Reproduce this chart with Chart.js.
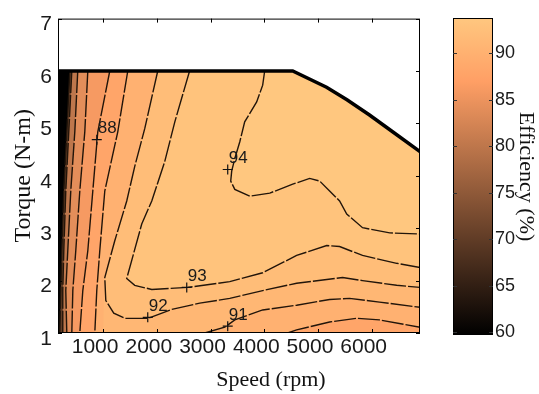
<!DOCTYPE html>
<html><head><meta charset="utf-8">
<script src="https://cdn.jsdelivr.net/npm/chart.js@4.4.0/dist/chart.umd.min.js"></script>
<style>
html,body{margin:0;padding:0;background:#fff;}
#wrap{position:relative;width:539px;height:394px;overflow:hidden;}
#main{position:absolute;left:0;top:0;}
#bar{position:absolute;left:440px;top:0;}
</style></head><body>
<div id="wrap">
<canvas id="main" width="440" height="394"></canvas>
<canvas id="bar" width="99" height="394"></canvas>
</div>
<script>
// ---------- data ----------
const speedTicks  = [1000, 2000, 3000, 4000, 5000, 6000];
const torqueTicks = [1, 2, 3, 4, 5, 6, 7];
const colorTicks  = [60, 65, 70, 75, 80, 85, 90];
const speedRange  = [160, 6900];
const torqueRange = [1, 7];
const effRange    = [59.7, 93.8];

// maximum-torque envelope
const envSpeed  = [160, 4530, 5160, 5540, 5960, 6390, 6900];
const envTorque = [6.00, 6.00, 5.69, 5.45, 5.16, 4.84, 4.46];

// contour lines (speed rpm, torque N-m)
const c70Speed  = [380, 324, 268, 231, 212, 193];
const c70Torque = [6.00, 4.84, 3.71, 2.57, 1.81, 1.00];
const c80Speed  = [417, 361, 305, 268, 249, 249];
const c80Torque = [6.00, 4.84, 3.71, 2.57, 1.81, 1.00];
const c84Speed  = [528, 473, 398, 342, 305, 324];
const c84Torque = [6.00, 4.84, 3.71, 2.57, 1.81, 1.00];
const c86Speed  = [715, 659, 566, 491, 436, 417];
const c86Torque = [6.00, 4.84, 3.71, 2.57, 1.81, 1.00];
const c88Speed  = [1124, 901, 808, 715, 622, 566];
const c88Torque = [6.00, 4.84, 3.71, 2.57, 1.81, 1.00];
const c90Speed  = [1459, 1273, 1031, 938, 882, 845];
const c90Torque = [6.00, 4.84, 3.71, 2.57, 1.81, 1.00];
const c90bSpeed  = [4436, 4603, 5217, 5718, 6146, 6900];
const c90bTorque = [1.00, 1.06, 1.21, 1.28, 1.25, 1.11];
const c91aSpeed  = [2017, 1775, 1589, 1440, 1217, 1031, 1010, 1000];
const c91aTorque = [6.00, 4.90, 4.18, 3.52, 2.76, 2.06, 1.50, 1.00];
const c91bSpeed  = [2892, 3265, 3452, 3971, 4603, 5217, 5588, 6146, 6900];
const c91bTorque = [1.00, 1.11, 1.25, 1.44, 1.53, 1.64, 1.66, 1.59, 1.49];
const c92Speed  = [2017, 1775, 1589, 1440, 1217, 1031, 1050, 1198, 1403, 1833, 2278, 2799, 3358, 3971, 4603, 5459, 5830, 6466, 6900];
const c92Torque = [6.00, 4.90, 4.18, 3.52, 2.76, 2.06, 1.62, 1.38, 1.28, 1.28, 1.45, 1.57, 1.66, 1.81, 1.95, 2.06, 2.00, 1.91, 1.87];
const c93Speed  = [2610, 2335, 2147, 1906, 1719, 1440, 1589, 1906, 2575, 3358, 3971, 4603, 5163, 5403, 5830, 6466, 6900];
const c93Torque = [6.00, 5.03, 4.27, 3.52, 3.08, 2.04, 1.91, 1.83, 1.87, 1.98, 2.15, 2.48, 2.67, 2.65, 2.48, 2.33, 2.25];
const c94Speed  = [4008, 3971, 3859, 3636, 3545, 3452, 3394, 3376, 3452, 3730, 4103, 4530, 4845, 5032, 5217, 5403, 5536, 5830, 6336, 6900];
const c94Torque = [6.00, 5.73, 5.41, 5.03, 4.65, 4.33, 4.09, 3.90, 3.74, 3.61, 3.67, 3.84, 3.95, 3.90, 3.71, 3.52, 3.27, 3.01, 2.91, 2.89];

// contour labels
const labelLevels = [88, 94, 93, 92, 91];
const labelSpeed  = [882, 3320, 2557, 1831, 3320];
const labelTorque = [4.69, 4.12, 1.87, 1.30, 1.13];

// ---------- helpers ----------
const P = (s, t) => s.map((v, i) => ({x: v, y: t[i]}));
const env = P(envSpeed, envTorque);
const xMin = speedRange[0], xMax = speedRange[1], tMin = torqueRange[0];
function region(path) {
  const s0 = path[0].x;
  const top = env.filter(p => p.x > s0 + 1).reverse();
  return [...path, ...top, path[0]];
}
const leftRegion = (s, t) => region([...P(s, t), {x: xMax, y: tMin}]);
function copper(v) {
  const t = Math.max(0, Math.min(1, (v - effRange[0]) / (effRange[1] - effRange[0])));
  return 'rgb(' + Math.round(255 * Math.min(1, 1.25 * t)) + ',' + Math.round(255 * 0.7812 * t) + ',' + Math.round(255 * 0.4975 * t) + ')';
}
const domain = [{x: xMin, y: tMin}, ...env, {x: xMax, y: tMin}, {x: xMin, y: tMin}];

const regions = [
  {lv: effRange[0], pts: domain},
  {lv: 70, pts: leftRegion(c70Speed, c70Torque)},
  {lv: 80, pts: leftRegion(c80Speed, c80Torque)},
  {lv: 84, pts: leftRegion(c84Speed, c84Torque)},
  {lv: 86, pts: leftRegion(c86Speed, c86Torque)},
  {lv: 88, pts: leftRegion(c88Speed, c88Torque)},
  {lv: 90, pts: region([...P(c90Speed, c90Torque), ...P(c90bSpeed, c90bTorque)])},
  {lv: 91, pts: region([...P(c91aSpeed, c91aTorque), ...P(c91bSpeed, c91bTorque)])},
  {lv: 92, pts: region(P(c92Speed, c92Torque))},
  {lv: 93, pts: region(P(c93Speed, c93Torque))},
  {lv: 94, pts: region(P(c94Speed, c94Torque))}
];
const contourLines = [
  P(c70Speed, c70Torque), P(c80Speed, c80Torque), P(c84Speed, c84Torque), P(c86Speed, c86Torque),
  P(c88Speed, c88Torque), P(c90Speed, c90Torque), P(c90bSpeed, c90bTorque), P(c91bSpeed, c91bTorque),
  P(c92Speed, c92Torque), P(c93Speed, c93Torque), P(c94Speed, c94Torque)
];

const datasets = [];
regions.forEach((r, i) => datasets.push({
  data: r.pts, fill: 'shape', backgroundColor: copper(r.lv), borderColor: 'transparent',
  borderWidth: 0, pointRadius: 0, order: 200 - i
}));
contourLines.forEach(l => datasets.push({
  data: l, fill: false, borderColor: '#22150a', borderWidth: 1.4, borderDash: [22, 2],
  pointRadius: 0, order: 50
}));
datasets.push({data: env, fill: false, borderColor: '#000', borderWidth: 3.5, pointRadius: 0, order: 10});
datasets.push({
  data: P(labelSpeed, labelTorque), showLine: false, pointStyle: 'cross', pointRadius: 5,
  borderColor: '#111', borderWidth: 1.2, order: 5
});

const tickFont = "'Liberation Sans Narrow', 'Liberation Sans', Arial, sans-serif";
const serif = "'Liberation Serif', 'Times New Roman', serif";

const mainFrame = {
  id: 'mainFrame',
  afterDraw(chart) {
    const {ctx, chartArea: a, scales: {x, y}} = chart;
    ctx.save();
    ctx.strokeStyle = '#000'; ctx.lineWidth = 1;
    ctx.strokeRect(a.left + 0.5, a.top + 0.5, a.right - a.left - 1, a.bottom - a.top - 1);
    ctx.beginPath();
    speedTicks.forEach(v => {
      const px = Math.round(x.getPixelForValue(v)) + 0.5;
      ctx.moveTo(px, a.bottom); ctx.lineTo(px, a.bottom - 4);
      ctx.moveTo(px, a.top); ctx.lineTo(px, a.top + 4);
    });
    torqueTicks.forEach(v => {
      const py = Math.round(y.getPixelForValue(v)) + 0.5;
      ctx.moveTo(a.left, py); ctx.lineTo(a.left + 4, py);
      ctx.moveTo(a.right, py); ctx.lineTo(a.right - 4, py);
    });
    ctx.stroke();
    ctx.fillStyle = '#1a1a1a';
    ctx.font = "17px 'Liberation Sans Narrow', 'Liberation Sans', Arial, sans-serif";
    ctx.textAlign = 'left'; ctx.textBaseline = 'middle';
    labelLevels.forEach((lv, i) => {
      const px = x.getPixelForValue(labelSpeed[i]), py = y.getPixelForValue(labelTorque[i]);
      ctx.fillText(String(lv), px + 1, py - 11);
    });
    ctx.font = '22px ' + serif; ctx.textAlign = 'center'; ctx.fillStyle = '#111';
    ctx.fillText('Speed (rpm)', (a.left + a.right) / 2 + 32, 380);
    ctx.restore();
  }
};

new Chart(document.getElementById('main'), {
  type: 'line',
  data: {datasets},
  options: {
    responsive: false, animation: false, events: [],
    plugins: {legend: {display: false}, tooltip: {enabled: false}},
    layout: {padding: {top: 16, right: 20, left: 0, bottom: 0}},
    scales: {
      x: {
        type: 'linear', min: speedRange[0], max: speedRange[1],
        afterBuildTicks: s => { s.ticks = speedTicks.map(v => ({value: v})); },
        afterFit: s => { s.height = 61; },
        grid: {display: false, drawTicks: false}, border: {display: false},
        ticks: {font: {family: tickFont, size: 21}, color: '#1a1a1a', padding: 2, labelOffset: -8,
                maxRotation: 0, autoSkip: false, callback: v => String(v)}
      },
      y: {
        type: 'linear', min: torqueRange[0], max: torqueRange[1],
        afterBuildTicks: s => { s.ticks = torqueTicks.map(v => ({value: v})); },
        afterFit: s => { s.width = 58; },
        grid: {display: false, drawTicks: false}, border: {display: false},
        ticks: {font: {family: tickFont, size: 21}, color: '#1a1a1a', padding: 6, labelOffset: 6,
                autoSkip: false, callback: v => String(v)},
        title: {display: true, text: 'Torque (N-m)', color: '#111', font: {family: serif, size: 24},
                padding: {top: 9, bottom: 0}}
      }
    }
  },
  plugins: [mainFrame]
});

const barFrame = {
  id: 'barFrame',
  afterDraw(chart) {
    const {ctx, chartArea: a, scales: {y}} = chart;
    ctx.save();
    ctx.strokeStyle = '#000'; ctx.lineWidth = 1;
    ctx.strokeRect(a.left + 0.5, a.top + 0.5, a.right - a.left - 1, a.bottom - a.top - 1);
    ctx.beginPath();
    colorTicks.forEach(v => {
      const py = Math.round(y.getPixelForValue(v)) + 0.5;
      ctx.moveTo(a.left, py); ctx.lineTo(a.left + 4, py);
      ctx.moveTo(a.right, py); ctx.lineTo(a.right - 4, py);
    });
    ctx.strokeStyle = '#333';
    ctx.stroke();
    ctx.restore();
  }
};

new Chart(document.getElementById('bar'), {
  type: 'bar',
  data: {labels: [''], datasets: [{
    data: [[effRange[0], effRange[1]]],
    backgroundColor: c => {
      const ch = c.chart, ys = ch.scales.y;
      if (!ch.chartArea || !ys) return '#000';
      const g = ch.ctx.createLinearGradient(0, ys.getPixelForValue(effRange[0]), 0, ys.getPixelForValue(effRange[1]));
      g.addColorStop(0, copper(effRange[0]));
      g.addColorStop(0.8, copper(effRange[0] + 0.8 * (effRange[1] - effRange[0])));
      g.addColorStop(1, copper(effRange[1]));
      return g;
    },
    borderWidth: 0, barPercentage: 1, categoryPercentage: 1
  }]},
  options: {
    responsive: false, animation: false, events: [],
    plugins: {legend: {display: false}, tooltip: {enabled: false}},
    layout: {padding: {left: 13, top: 18, bottom: 59, right: 0}},
    scales: {
      x: {display: false},
      y: {
        position: 'right', min: effRange[0], max: effRange[1],
        afterBuildTicks: s => { s.ticks = colorTicks.map(v => ({value: v})); },
        afterFit: s => { s.width = 46; },
        grid: {display: false, drawTicks: false}, border: {display: false},
        ticks: {padding: 2, color: '#1a1a1a', font: {family: "'Liberation Sans', Arial, sans-serif", size: 18}},
        title: {display: true, text: 'Efficiency (%)', color: '#111', font: {family: serif, size: 22},
                padding: {top: 0, bottom: 0}}
      }
    }
  },
  plugins: [barFrame]
});
</script>
</body></html>
